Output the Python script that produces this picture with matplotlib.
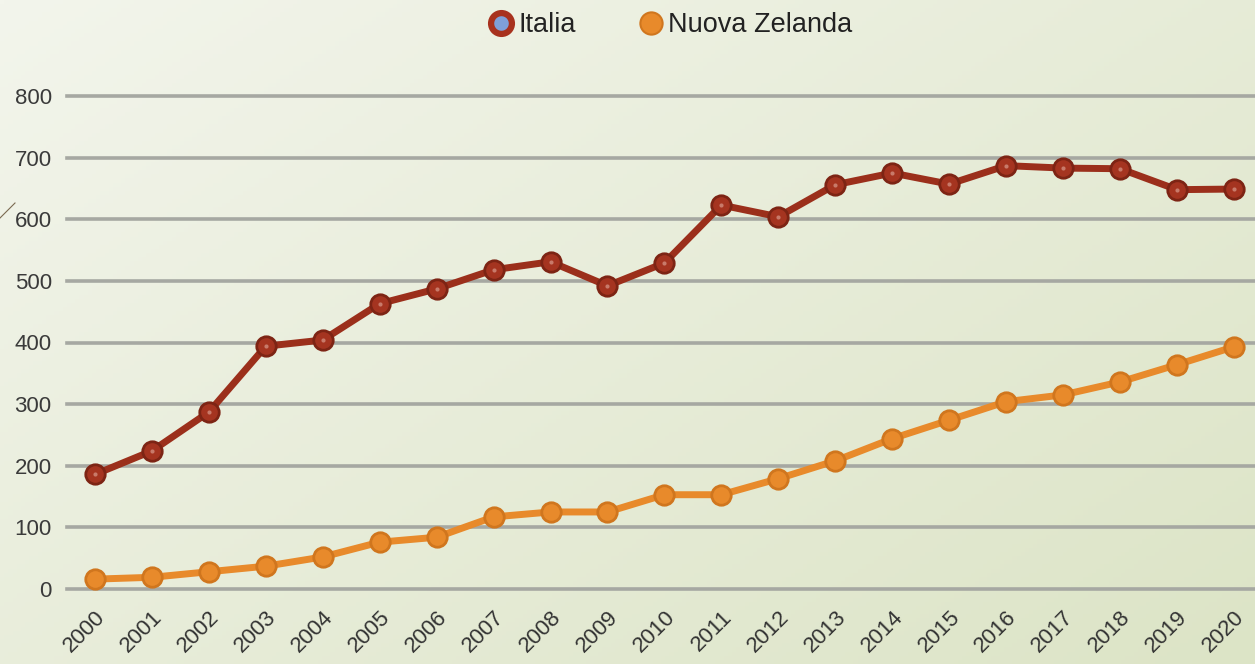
import numpy as np
import matplotlib
matplotlib.use("Agg")
import matplotlib.pyplot as plt
from matplotlib.lines import Line2D

years = [str(y) for y in range(2000, 2021)]
italia = [186, 224, 287, 394, 404, 463, 487, 518, 531, 492, 529, 623, 604, 656, 675, 657, 687, 683, 682, 648, 649]
nuova_zelanda = [16, 19, 28, 37, 52, 76, 84, 117, 125, 125, 153, 153, 179, 208, 244, 274, 304, 315, 336, 364, 393]
yticks = [0, 100, 200, 300, 400, 500, 600, 700, 800]

plt.rcParams['font.family'] = ['Liberation Sans', 'DejaVu Sans']

W, H = 1255, 664
fig = plt.figure(figsize=(W / 100, H / 100), dpi=100)

# background gradient
bg = fig.add_axes([0, 0, 1, 1], zorder=-10)
xx, yy = np.meshgrid(np.linspace(0, 1, 300), np.linspace(0, 1, 160))
t = np.clip(0.55 * xx + 0.45 * yy, 0, 1)
c0 = np.array([0xf3, 0xf5, 0xec]) / 255
c1 = np.array([0xdc, 0xe4, 0xc6]) / 255
img = c0[None, None, :] * (1 - t[..., None]) + c1[None, None, :] * t[..., None]
bg.imshow(img, aspect='auto', extent=[0, 1, 0, 1], origin='upper')
bg.set_axis_off()
bg.plot([0, 15 / W], [1 - 218 / H, 1 - 203 / H], color='#7a6a50', lw=0.8)
bg.set_xlim(0, 1)
bg.set_ylim(0, 1)

ax = fig.add_axes([67 / W, (H - 589) / H, 1 - 67 / W, (589 - 96) / H])
ax.patch.set_alpha(0)
x = np.arange(len(years))

for yv in yticks:
    ax.axhline(yv, color='#a6a8a2', lw=2.6, zorder=1, clip_on=False)

red = '#9b2f1b'
red_edge = '#7d2414'
org = '#e88a2b'
org_edge = '#d0761e'

ax.plot(x, italia, color=red, lw=5, marker='o', ms=14, mfc='#a53420', mec=red_edge, mew=2,
        zorder=3, clip_on=False)
ax.plot(x, italia, ls='none', marker='o', ms=3, mfc='#c87a6a', mec='none', zorder=4, clip_on=False)
ax.plot(x, nuova_zelanda, color=org, lw=5, marker='o', ms=14, mfc=org, mec=org_edge, mew=2,
        zorder=3, clip_on=False)

ax.set_xlim(-0.49, 20.37)
ax.set_ylim(0, 800)
ax.set_yticks(yticks)
ax.set_yticklabels([str(v) for v in yticks], fontsize=16, color='#3a3a3a')
ax.set_xticks(x)
ax.set_xticklabels(years, rotation=45, ha='right', rotation_mode='anchor', fontsize=16, color='#333333')
ax.tick_params(axis='both', length=0)
ax.tick_params(axis='y', pad=11)
ax.tick_params(axis='x', pad=13)
for s in ax.spines.values():
    s.set_visible(False)

handles = [
    Line2D([], [], ls='none', marker='o', ms=15, mfc='#7fa0d8', mec='#a8321e', mew=4.5),
    Line2D([], [], ls='none', marker='o', ms=16, mfc=org, mec=org_edge, mew=1.5),
]
fig.legend(handles, ['Italia', 'Nuova Zelanda'], loc='center', bbox_to_anchor=(0.534, 1 - 25 / H),
           ncol=2, frameon=False, fontsize=19.5, handletextpad=0.12, columnspacing=2.3, handlelength=1.0,
           labelcolor='#222222')

fig.savefig('out.png', dpi=100)
